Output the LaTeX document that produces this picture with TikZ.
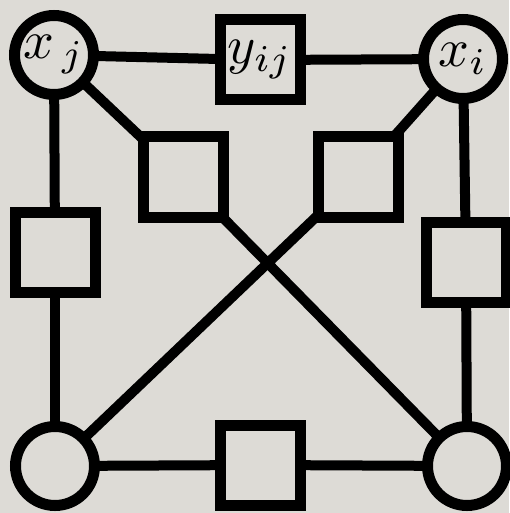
\documentclass[tikz,border=0pt]{standalone}
\usepackage{graphicx}
\pgfdeclarelayer{bgfill}
\pgfdeclarelayer{edges}
\pgfsetlayers{bgfill,edges,main}
\newcommand{\biglabel}[1]{\scalebox{5.4}{$#1$}}
\begin{document}
\begin{tikzpicture}[x=1pt,y=-1pt,
  bg/.style={fill={rgb,255:red,221;green,219;blue,214}},
  varnode/.style={circle,draw=black,line width=11pt,minimum size=79pt,inner sep=0pt,bg},
  facnode/.style={rectangle,draw=black,line width=11pt,minimum size=80pt,inner sep=0pt,bg},
  conn/.style={line width=10pt,draw=black}]
\begin{pgfonlayer}{bgfill}
\fill[bg] (0,0) rectangle (509,513);
\end{pgfonlayer}
\useasboundingbox (0,0) rectangle (509,513);
% nodes
\node[varnode] (xj) at (54,55) {\biglabel{x_{\,j}}};
\node[facnode] (yij) at (260,60) {\biglabel{y_{ij}}};
\node[varnode] (xi) at (463,59) {\biglabel{x_i}};
\node[facnode] (ls) at (55,252) {};
\node[facnode] (sqL) at (183,177) {};
\node[facnode] (sqR) at (358,177) {};
\node[facnode] (rs) at (466,262) {};
\node[varnode] (bl) at (55,466) {};
\node[facnode] (bs) at (260,465) {};
\node[varnode] (br) at (467,466) {};
% connectors
\begin{pgfonlayer}{edges}
\draw[conn] (xj.center) -- (yij.center);
\draw[conn] (yij.center) -- (xi.center);
\draw[conn] (xj.center) -- (ls.center);
\draw[conn] (ls.center) -- (bl.center);
\draw[conn] (xi.center) -- (rs.center);
\draw[conn] (rs.center) -- (br.center);
\draw[conn] (bl.center) -- (bs.center);
\draw[conn] (bs.center) -- (br.center);
\draw[conn] (xj.center) -- (sqL.center);
\draw[conn] (sqL.center) -- (br.center);
\draw[conn] (xi.center) -- (sqR.center);
\draw[conn] (sqR.center) -- (bl.center);
\end{pgfonlayer}
\end{tikzpicture}
\end{document}
